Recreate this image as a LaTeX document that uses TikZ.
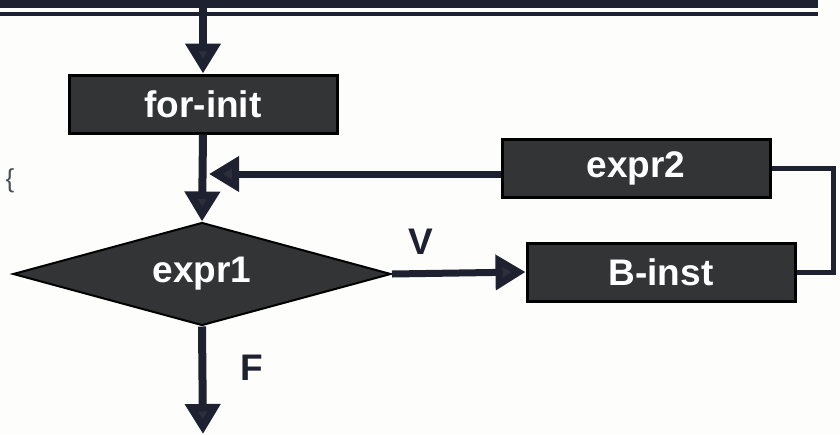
\documentclass[tikz,border=0pt]{standalone}
\usepackage{fontspec}
\setmainfont{Liberation Sans}
\usetikzlibrary{arrows.meta,shapes.geometric}
\definecolor{ink}{HTML}{1E2130}
\definecolor{boxfill}{HTML}{333436}
\definecolor{paper}{HTML}{FDFDFB}
\begin{document}
\begin{tikzpicture}[x=1pt,y=-1pt,
  lbl/.style={font=\fontsize{37}{40}\selectfont\bfseries},
  stepbox/.style={draw=black,line width=3pt,fill=boxfill,text=white,
    minimum width=268pt,minimum height=58pt,inner sep=0pt,lbl},
  testbox/.style={diamond,aspect=3.7,draw=black,line width=2pt,fill=boxfill,text=white,
    minimum width=378pt,minimum height=103pt,inner sep=0pt,lbl},
  flow/.style={draw=ink,line width=8pt,
    -{Triangle[length=30pt,width=34pt,fill=ink!85!gray]}},
  link/.style={draw=ink,line width=5pt},
]
\useasboundingbox[fill=paper] (0,0) rectangle (840,434);

% rule lines across the top
\fill[ink] (0,0) rectangle (818,8);
\fill[ink] (0,12) rectangle (818,16);

% blocks
\node[stepbox] (forinit) at (203,104) {for-init};
\node[stepbox] (expr2) at (636,168) {expr2};
\node[stepbox] (binst) at (661,272) {B-inst};
\node[testbox] (cond) at (202,274) {expr1};

\coordinate (top) at (203,0);
\coordinate (join) at (209,174);
\coordinate (out) at (203,434);

% main flow
\draw[flow] (top) -- (forinit.north);
\draw[flow] (forinit.south) -- (cond.north);
\draw[flow,line width=7pt] (expr2.west |- join) -- (join);
\draw[flow,line width=7pt] (cond.east) -- (binst.west);
\draw[flow] (cond.south) -- (out);

% loop back from the body to the step expression
\draw[link] (binst.east) -- ++(37,0) |- (expr2.east);

% branch labels
\node[lbl,text=ink] (vlab) at (421,242) {V};
\node[lbl,text=ink] (flab) at (252,368) {F};

% stray brace in the margin
\node[text=ink!80,font=\fontsize{26}{28}\selectfont] (brace) at (10,181) {\{};
\end{tikzpicture}
\end{document}
